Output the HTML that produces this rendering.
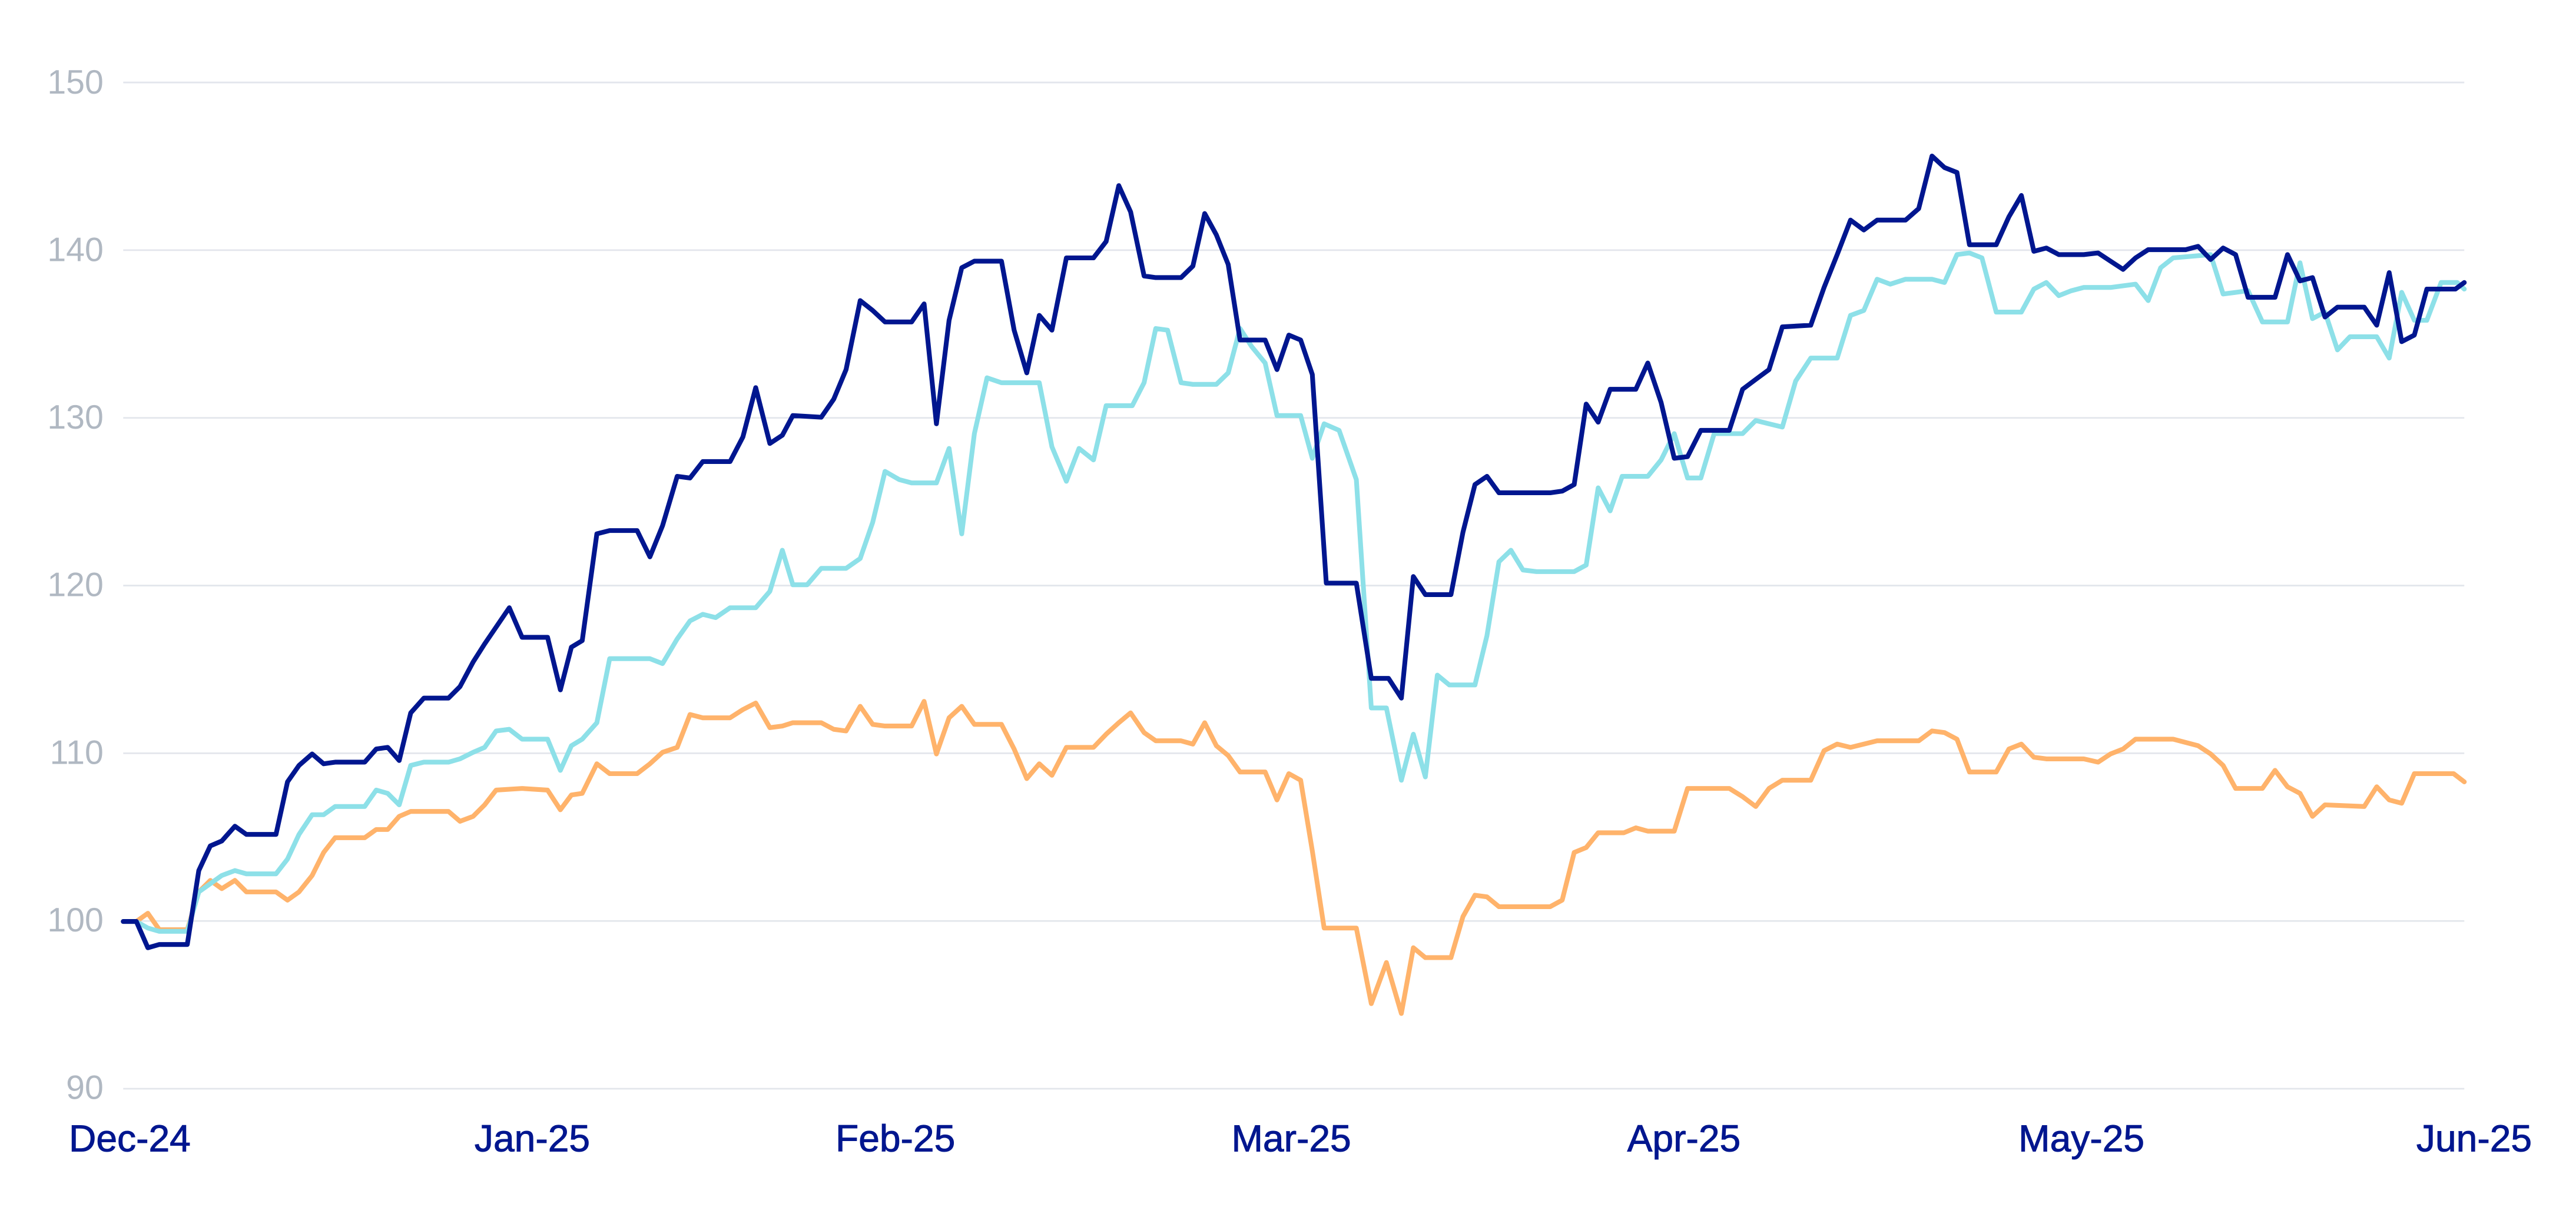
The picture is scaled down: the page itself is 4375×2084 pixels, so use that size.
<!DOCTYPE html>
<html><head><meta charset="utf-8"><style>
html,body{margin:0;padding:0;background:#fff;}
svg{display:block;}
</style></head><body>
<svg id="c" width="4375" height="2084" viewBox="0 0 1568 747" preserveAspectRatio="none" xmlns="http://www.w3.org/2000/svg">
<g stroke="#e3e6ec" stroke-width="1">
<line x1="75" y1="50.2" x2="1500" y2="50.2"/>
<line x1="75" y1="152.3" x2="1500" y2="152.3"/>
<line x1="75" y1="254.4" x2="1500" y2="254.4"/>
<line x1="75" y1="356.5" x2="1500" y2="356.5"/>
<line x1="75" y1="458.6" x2="1500" y2="458.6"/>
<line x1="75" y1="560.7" x2="1500" y2="560.7"/>
<line x1="75" y1="662.8" x2="1500" y2="662.8"/>
</g>
<g font-family="Liberation Sans, sans-serif" font-size="20.5" fill="#b0b8c2" text-anchor="end">
<text x="63" y="57">150</text>
<text x="63" y="159">140</text>
<text x="63" y="261">130</text>
<text x="63" y="363">120</text>
<text x="63" y="465">110</text>
<text x="63" y="567">100</text>
<text x="63" y="669">90</text>
</g>
<g font-family="Liberation Sans, sans-serif" font-size="23" fill="#00168f" text-anchor="middle" stroke="#00168f" stroke-width="0.35">
<text x="79" y="701">Dec-24</text>
<text x="324" y="701">Jan-25</text>
<text x="545" y="701">Feb-25</text>
<text x="786" y="701">Mar-25</text>
<text x="1025" y="701">Apr-25</text>
<text x="1267" y="701">May-25</text>
<text x="1506" y="701">Jun-25</text>
</g>
<g fill="none" stroke-width="2.9" stroke-linejoin="round" stroke-linecap="round">
<polyline class="s" stroke="#ffb36b" points="75,561 83,561 90,556 97,566 114,566 121,543 128,536 135,541 143,536 150,543 168,543 175,548 182,543 190,533 197,519 204,510 222,510 229,505 236,505 243,497 250,494 273,494 280,500 288,497 295,490 302,481 317,480 331,481 338,493 344,484 350,483 358,465 365,471 380,471 387,465 394,458 402,455 409,435 416,437 431,437 438,432 445,428 453,443 460,442 466,440 482,440 489,444 496,445 504,430 511,441 518,442 533,442 540,427 547,459 554,437 561,430 568,441 583,441 590,456 597,474 604,465 611,472 619,455 634,455 641,447 648,440 655,434 663,446 670,451 685,451 692,453 699,440 706,454 713,460 720,470 735,470 742,487 749,471 756,475 763,518 770,565 785,565 792,611 799,586 806,617 813,577 820,583 835,583 842,558 849,545 856,546 863,552 885,552 893,552 900,548 907,519 914,516 921,507 936,507 943,504 950,506 964,506 971,480 993,480 1000,485 1007,491 1014,480 1021,475 1036,475 1043,457 1050,453 1057,455 1064,453 1071,451 1093,451 1100,445 1107,446 1114,450 1121,470 1136,470 1143,456 1150,453 1157,461 1164,462 1185,462 1193,464 1200,459 1207,456 1214,450 1235,450 1249,454 1256,459 1263,466 1270,480 1285,480 1292,469 1299,479 1306,483 1313,497 1320,490 1342,491 1349,479 1356,487 1363,489 1370,471 1392,471 1398,476"/>
<polyline class="s" stroke="#8de0e8" points="75,561 83,561 90,565 97,567 114,567 121,543 128,538 135,533 143,530 150,532 168,532 175,523 182,508 190,496 197,496 204,491 222,491 229,481 236,483 243,490 250,466 258,464 273,464 280,462 288,458 295,455 302,445 310,444 317,450 331,450 338,469 344,454 350,450 358,440 365,401 380,401 387,401 394,404 402,389 409,378 416,374 423,376 431,370 445,370 453,360 460,335 466,356 474,356 482,346 496,346 504,340 511,318 518,287 526,292 533,294 547,294 554,273 561,325 568,264 575,230 583,233 604,233 611,272 619,293 626,273 634,280 641,247 656,247 663,233 670,200 677,201 685,233 692,234 706,234 713,227 720,200 727,211 735,221 742,253 756,253 763,279 770,258 777,262 785,292 792,431 799,431 806,475 813,447 820,473 827,411 834,417 849,417 856,387 863,342 870,335 877,347 885,348 907,348 914,344 921,297 928,311 935,290 950,290 957,280 964,264 971,291 978,291 985,264 1000,264 1007,256 1014,258 1021,260 1028,232 1036,218 1050,218 1057,192 1064,189 1071,170 1078,173 1086,170 1100,170 1107,172 1114,155 1121,154 1128,157 1136,190 1150,190 1157,176 1164,172 1171,180 1178,177 1185,175 1200,175 1214,173 1221,183 1228,163 1235,157 1256,155 1263,179 1270,178 1277,177 1285,196 1299,196 1306,160 1313,194 1320,190 1327,213 1334,205 1349,205 1356,218 1363,178 1370,195 1377,195 1385,172 1394,172 1398,176"/>
<polyline class="s" stroke="#00168f" points="75,561 83,561 90,577 97,575 114,575 121,530 128,515 135,512 143,503 150,508 168,508 175,476 182,466 190,459 197,465 204,464 222,464 229,456 236,455 243,463 250,434 258,425 273,425 280,418 288,403 295,392 310,370 317,388 331,388 338,420 344,394 350,390 358,325 365,323 380,323 387,339 394,320 402,290 409,291 416,281 431,281 438,266 445,236 453,270 460,265 466,253 482,254 489,243 496,225 504,183 511,189 518,196 533,196 540,185 547,258 554,195 561,163 568,159 583,159 590,201 597,227 604,192 611,201 619,157 634,157 641,147 648,113 655,129 663,168 670,169 685,169 692,162 699,130 706,143 713,161 720,207 735,207 742,225 749,204 756,207 763,228 771,355 785,355 792,413 800,413 806,425 813,351 820,362 835,362 842,324 849,295 856,290 863,300 893,300 900,299 907,295 914,246 921,257 928,237 943,237 950,221 957,245 964,279 971,278 978,262 993,262 1000,237 1007,231 1014,225 1021,199 1036,198 1043,175 1050,155 1057,134 1064,140 1071,134 1086,134 1093,127 1100,95 1107,102 1114,105 1121,149 1136,149 1143,132 1150,119 1157,153 1164,151 1171,155 1185,155 1193,154 1200,159 1207,164 1214,157 1221,152 1242,152 1249,150 1256,158 1263,151 1270,155 1277,181 1292,181 1299,155 1306,171 1313,169 1320,193 1327,187 1342,187 1349,198 1356,166 1363,208 1370,204 1377,176 1393,176 1398,172"/>
</g>
</svg>
<script>
(function(){
var K=[[75,75],[310,310],[445,460],[547,570],[648,681],[770,806],[806,853],[950,1003],[1100,1176],[1398,1500]];
function m(x){for(var i=0;i<K.length-1;i++){var a=K[i],b=K[i+1];if(x<=b[0]||i==K.length-2){return a[1]+(x-a[0])*(b[1]-a[1])/(b[0]-a[0]);}}return x;}
var ps=document.querySelectorAll('polyline.s');
for(var j=0;j<ps.length;j++){
var p=ps[j].getAttribute('points').trim().split(/\s+/).map(function(t){var v=t.split(',');return m(+v[0]).toFixed(1)+','+v[1];});
ps[j].setAttribute('points',p.join(' '));
}
})();
</script>
</body></html>
